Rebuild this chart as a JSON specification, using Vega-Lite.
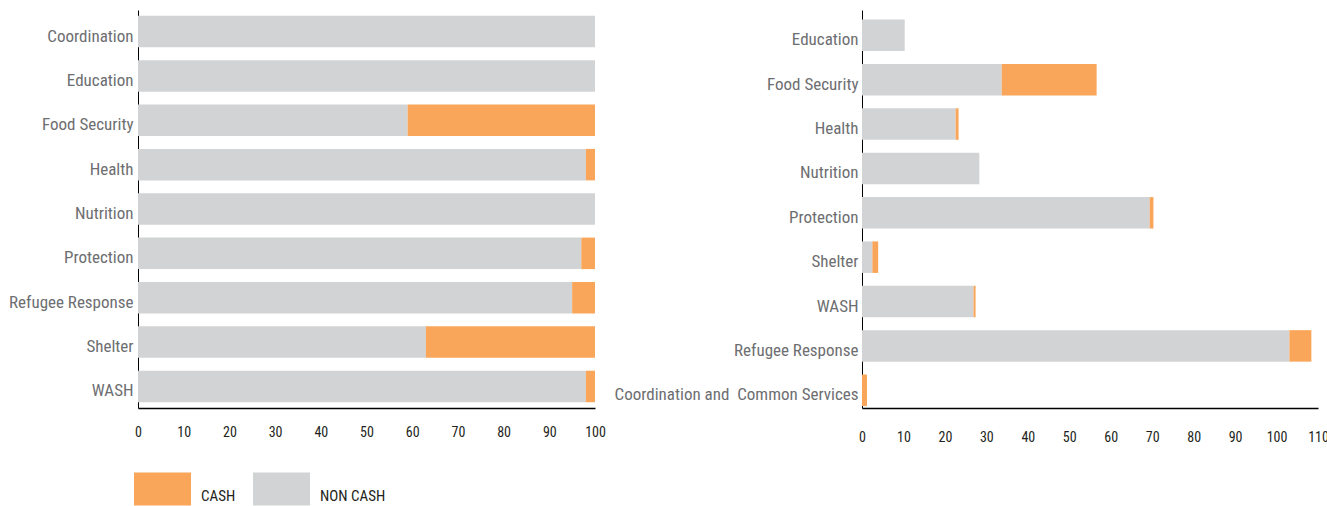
{
  "$schema": "https://vega.github.io/schema/vega-lite/v6.json",
  "padding": {"left": 0, "top": 10, "right": 0, "bottom": 0},
  "config": {
    "view": {"stroke": null},
    "font": "Roboto Condensed, Liberation Sans Narrow, DejaVu Sans Condensed, sans-serif",
    "axisY": {"title": null, "ticks": false, "domainColor": "#000000", "domainWidth": 1, "labelFontSize": 17, "labelColor": "#6d6e71", "labelPadding": 5, "labelOffset": 5, "labelLimit": 300, "grid": false},
    "axisX": {"title": null, "ticks": false, "domainColor": "#000000", "domainWidth": 1.5, "labelFontSize": 14, "labelColor": "#231f20", "labelPadding": 17, "grid": false, "labelFlush": false}
  },
  "datasets": {
    "left": [
      {"sector": "Coordination", "type": "NON CASH", "value": 100},
      {"sector": "Coordination", "type": "CASH", "value": 0},
      {"sector": "Education", "type": "NON CASH", "value": 100},
      {"sector": "Education", "type": "CASH", "value": 0},
      {"sector": "Food Security", "type": "NON CASH", "value": 59},
      {"sector": "Food Security", "type": "CASH", "value": 41},
      {"sector": "Health", "type": "NON CASH", "value": 98},
      {"sector": "Health", "type": "CASH", "value": 2},
      {"sector": "Nutrition", "type": "NON CASH", "value": 100},
      {"sector": "Nutrition", "type": "CASH", "value": 0},
      {"sector": "Protection", "type": "NON CASH", "value": 97},
      {"sector": "Protection", "type": "CASH", "value": 3},
      {"sector": "Refugee Response", "type": "NON CASH", "value": 95},
      {"sector": "Refugee Response", "type": "CASH", "value": 5},
      {"sector": "Shelter", "type": "NON CASH", "value": 63},
      {"sector": "Shelter", "type": "CASH", "value": 37},
      {"sector": "WASH", "type": "NON CASH", "value": 98},
      {"sector": "WASH", "type": "CASH", "value": 2}
    ],
    "right": [
      {"sector": "Education", "type": "NON CASH", "value": 10.3},
      {"sector": "Education", "type": "CASH", "value": 0},
      {"sector": "Food Security", "type": "NON CASH", "value": 33.7},
      {"sector": "Food Security", "type": "CASH", "value": 22.9},
      {"sector": "Health", "type": "NON CASH", "value": 22.6},
      {"sector": "Health", "type": "CASH", "value": 0.7},
      {"sector": "Nutrition", "type": "NON CASH", "value": 28.3},
      {"sector": "Nutrition", "type": "CASH", "value": 0},
      {"sector": "Protection", "type": "NON CASH", "value": 69.4},
      {"sector": "Protection", "type": "CASH", "value": 0.9},
      {"sector": "Shelter", "type": "NON CASH", "value": 2.5},
      {"sector": "Shelter", "type": "CASH", "value": 1.4},
      {"sector": "WASH", "type": "NON CASH", "value": 26.9},
      {"sector": "WASH", "type": "CASH", "value": 0.5},
      {"sector": "Refugee Response", "type": "NON CASH", "value": 103.1},
      {"sector": "Refugee Response", "type": "CASH", "value": 5.3},
      {"sector": "Coordination and \u00a0Common Services", "type": "NON CASH", "value": 0},
      {"sector": "Coordination and \u00a0Common Services", "type": "CASH", "value": 1.2}
    ]
  },
  "spacing": 6,
  "hconcat": [
    {
      "width": 457,
      "height": 398,
      "data": {"name": "left"},
      "mark": {"type": "bar"},
      "encoding": {
        "y": {"field": "sector", "type": "nominal", "sort": ["Coordination", "Education", "Food Security", "Health", "Nutrition", "Protection", "Refugee Response", "Shelter", "WASH"], "scale": {"paddingInner": 0.29, "paddingOuter": 0.13}, "axis": {"minExtent": 138, "maxExtent": 138}},
        "x": {"field": "value", "type": "quantitative", "stack": "zero", "scale": {"domain": [0, 100], "nice": false}, "axis": {"values": [0, 10, 20, 30, 40, 50, 60, 70, 80, 90, 100]}},
        "color": {"field": "type", "type": "nominal", "scale": {"domain": ["CASH", "NON CASH"], "range": ["#F9A65A", "#D1D3D4"]}, "legend": {"title": null, "orient": "none", "direction": "horizontal", "legendX": -4, "legendY": 450, "symbolType": "M-1,-0.58H1V0.58H-1Z", "symbolSize": 3249, "symbolStrokeWidth": 0, "symbolOpacity": 1, "labelFontSize": 15, "labelColor": "#231f20", "labelBaseline": "top", "labelOffset": 10, "columnPadding": 17}},
        "order": {"field": "type", "sort": "descending"}
      }
    },
    {
      "width": 456,
      "height": 398,
      "data": {"name": "right"},
      "mark": {"type": "bar"},
      "encoding": {
        "y": {"field": "sector", "type": "nominal", "sort": ["Education", "Food Security", "Health", "Nutrition", "Protection", "Shelter", "WASH", "Refugee Response", "Coordination and \u00a0Common Services"], "scale": {"paddingInner": 0.29, "paddingOuter": 0.13, "align": 0.83}, "axis": {"minExtent": 250, "maxExtent": 250, "labelPadding": 4}},
        "x": {"field": "value", "type": "quantitative", "stack": "zero", "scale": {"domain": [0, 110], "nice": false}, "axis": {"values": [0, 10, 20, 30, 40, 50, 60, 70, 80, 90, 100, 110], "labelPadding": 22}},
        "color": {"field": "type", "type": "nominal"},
        "order": {"field": "type", "sort": "descending"}
      }
    }
  ]
}
